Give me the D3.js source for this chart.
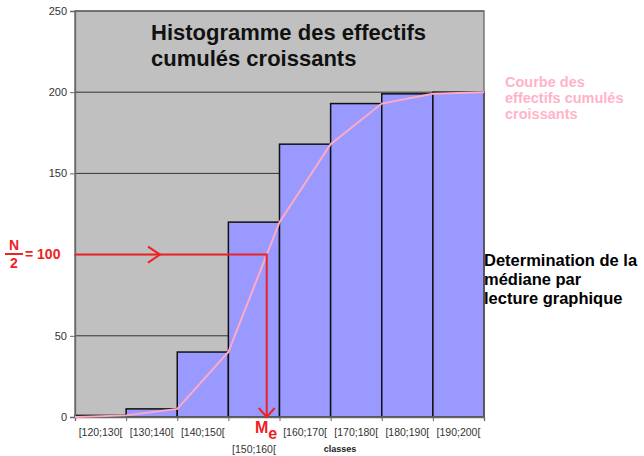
<!DOCTYPE html>
<html>
<head>
<meta charset="utf-8">
<script src="https://d3js.org/d3.v7.min.js"></script>
<style>
body { margin: 0; background: #fff; }
svg text { font-family: "Liberation Sans", Arial, sans-serif; }
</style>
</head>
<body>
<svg id="chart" width="644" height="456"></svg>
<script>
// data
var classes = ["[120;130[", "[130;140[", "[140;150[", "[150;160[", "[160;170[", "[170;180[", "[180;190[", "[190;200["];
var cumules = [1, 5, 40, 120, 168, 193, 199, 200];
// curve: cumulative count at each class bound
var bornes = [120, 130, 140, 150, 160, 170, 180, 190, 200];
var courbe = [0, 1, 5, 40, 120, 168, 193, 199, 200];
var yTicks = [0, 50, 100, 150, 200, 250];
var demiEffectif = 100;

var svg = d3.select("#chart");
var pLeft = 75, pRight = 484, pTop = 11, pBottom = 417;

var x = d3.scaleBand().domain(classes).range([pLeft, pRight]).padding(0);
var xb = d3.scaleLinear().domain([120, 200]).range([pLeft, pRight]);
var y = d3.scaleLinear().domain([0, 250]).range([pBottom, pTop]);

// plot background
svg.append("rect")
  .attr("x", pLeft).attr("y", pTop)
  .attr("width", pRight - pLeft).attr("height", pBottom - pTop)
  .attr("fill", "#c0c0c0");

// gridlines
svg.append("g").selectAll("line")
  .data(yTicks.filter(function(d) { return d > 0; }))
  .enter().append("line")
  .attr("x1", pLeft).attr("x2", pRight)
  .attr("y1", function(d) { return y(d); })
  .attr("y2", function(d) { return y(d); })
  .attr("stroke", "#333").attr("stroke-width", 1);

// bars
svg.append("g").selectAll("rect")
  .data(cumules)
  .enter().append("rect")
  .attr("x", function(d, i) { return x(classes[i]); })
  .attr("y", function(d) { return y(d); })
  .attr("width", x.bandwidth())
  .attr("height", function(d) { return y(0) - y(d); })
  .attr("fill", "#9999ff")
  .attr("stroke", "#111")
  .attr("stroke-width", 1.5);

// plot border
svg.append("rect")
  .attr("x", pLeft).attr("y", pTop)
  .attr("width", pRight - pLeft).attr("height", pBottom - pTop)
  .attr("fill", "none").attr("stroke", "#666").attr("stroke-width", 1.3);

// y axis (the 100 label sits under the N/2 note)
var yAxis = svg.append("g")
  .attr("transform", "translate(" + pLeft + ",0)")
  .call(d3.axisLeft(y).tickValues(yTicks).tickSize(5).tickPadding(3)
    .tickFormat(function(d) { return d === demiEffectif ? "" : d; }));
yAxis.select(".domain").attr("stroke", "#666").attr("stroke-width", 1.3);
yAxis.selectAll(".tick line").attr("stroke", "#666");
yAxis.selectAll("text").attr("font-size", 11).attr("fill", "#333")
  .style("font-family", "Liberation Sans, Arial, sans-serif");

// x axis
var xAxis = svg.append("g")
  .attr("transform", "translate(0," + pBottom + ")")
  .call(d3.axisBottom(xb).tickValues(bornes).tickSize(4).tickFormat(""));
xAxis.select(".domain").attr("stroke", "#666").attr("stroke-width", 1.3);
xAxis.selectAll(".tick line").attr("stroke", "#666");

svg.append("g").selectAll("text")
  .data(classes)
  .enter().append("text")
  .attr("x", function(d) { return x(d) + x.bandwidth() / 2; })
  .attr("y", function(d, i) { return i === 3 ? 453 : 436; })
  .attr("text-anchor", "middle")
  .attr("font-size", 10.5)
  .attr("fill", "#333")
  .text(function(d) { return d; });

svg.append("text")
  .attr("x", 340).attr("y", 452)
  .attr("text-anchor", "middle")
  .attr("font-size", 9).attr("font-weight", "bold").attr("fill", "#222")
  .text("classes");

// cumulative curve
svg.append("path")
  .datum(courbe)
  .attr("fill", "none")
  .attr("stroke", "#ffaac0")
  .attr("stroke-width", 2)
  .attr("d", d3.line()
    .x(function(d, i) { return xb(bornes[i]); })
    .y(function(d) { return y(d); }));

// median by linear interpolation in [150;160[
var k = courbe.findIndex(function(d) { return d >= demiEffectif; });
var med = bornes[k - 1] + (bornes[k] - bornes[k - 1]) * (demiEffectif - courbe[k - 1]) / (courbe[k] - courbe[k - 1]);
var red = "#ee2222";

svg.append("path")
  .attr("d", "M" + pLeft + "," + y(demiEffectif) + "H" + xb(med) + "V" + y(0))
  .attr("fill", "none").attr("stroke", red).attr("stroke-width", 2);
// arrow heads
var ax = 154, ay = y(demiEffectif);
svg.append("path")
  .attr("d", "M" + (ax - 6) + "," + (ay - 8) + "L" + (ax + 6) + "," + ay + "L" + (ax - 6) + "," + (ay + 8))
  .attr("fill", "none").attr("stroke", red).attr("stroke-width", 2);
var mx = xb(med), my = y(0);
svg.append("path")
  .attr("d", "M" + (mx - 8) + "," + (my - 9) + "L" + mx + "," + my + "L" + (mx + 8) + "," + (my - 9))
  .attr("fill", "none").attr("stroke", red).attr("stroke-width", 2);

// N/2 = 100 (white box hides the 100 tick mark, as in the original)
svg.append("rect").attr("x", 0).attr("y", y(demiEffectif) - 16)
  .attr("width", pLeft - 1).attr("height", 34).attr("fill", "#fff");
var lab = svg.append("g").attr("fill", red).attr("font-weight", "bold");
lab.append("text").attr("x", 14).attr("y", 250).attr("text-anchor", "middle").attr("font-size", 14).text("N");
lab.append("line").attr("x1", 5).attr("x2", 23).attr("y1", 254).attr("y2", 254).attr("stroke", red).attr("stroke-width", 2);
lab.append("text").attr("x", 14).attr("y", 268).attr("text-anchor", "middle").attr("font-size", 14).text("2");
lab.append("text").attr("x", 25).attr("y", 259).attr("font-size", 14).text("= " + demiEffectif);

// Me
var me = svg.append("text").attr("x", 255).attr("y", 433).attr("fill", red)
  .attr("font-weight", "bold").attr("font-size", 16);
me.append("tspan").text("M");
me.append("tspan").attr("dy", 6).text("e");

// title
var title = svg.append("text").attr("font-size", 22).attr("font-weight", "bold").attr("fill", "#111");
title.append("tspan").attr("x", 151).attr("y", 40).text("Histogramme des effectifs");
title.append("tspan").attr("x", 151).attr("y", 66).text("cumulés croissants");

// curve legend
var leg = svg.append("text").attr("font-size", 14.5).attr("font-weight", "bold").attr("fill", "#ffb3c8");
["Courbe des", "effectifs cumulés", "croissants"].forEach(function(t, i) {
  leg.append("tspan").attr("x", 505).attr("y", 87 + i * 16).text(t);
});

// side note
var note = svg.append("text").attr("font-size", 16.5).attr("font-weight", "bold").attr("fill", "#000");
["Determination de la", "médiane par", "lecture graphique"].forEach(function(t, i) {
  note.append("tspan").attr("x", 484).attr("y", 266 + i * 19).text(t);
});
</script>
</body>
</html>
